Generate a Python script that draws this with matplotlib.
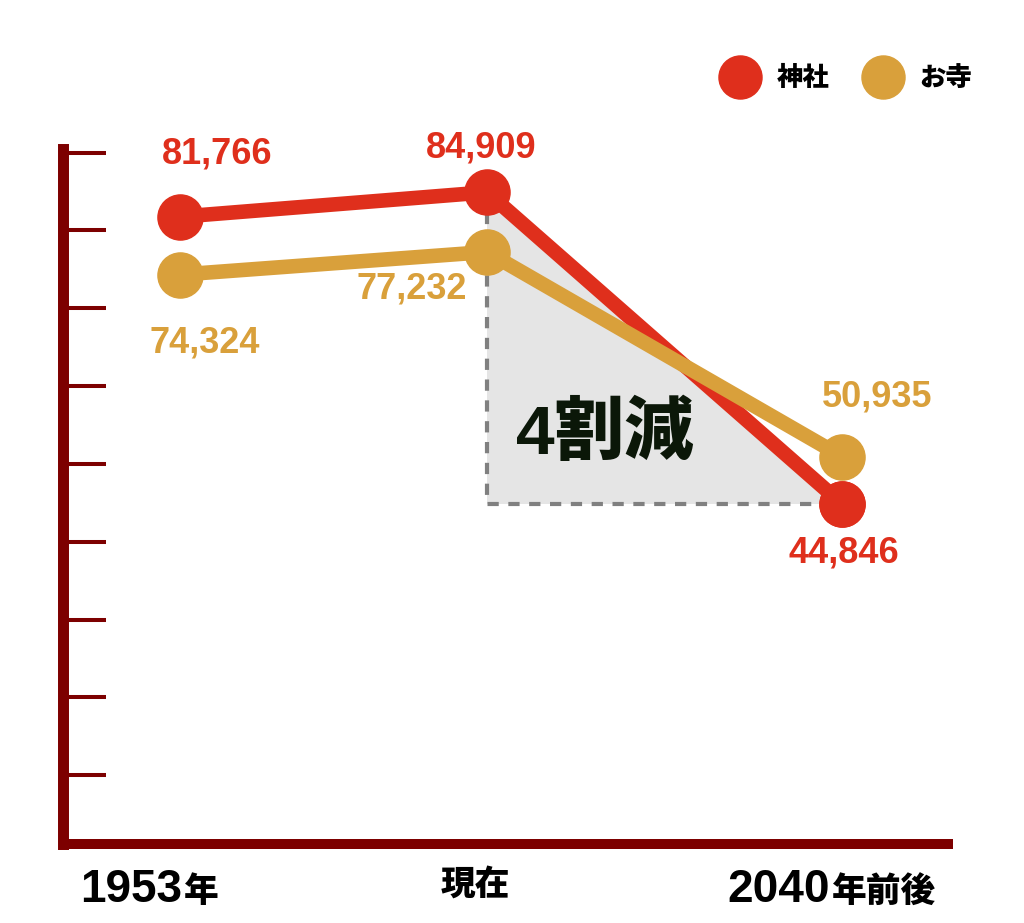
import re
import matplotlib
matplotlib.use("Agg")
import matplotlib.pyplot as plt
from matplotlib.lines import Line2D

plt.rcParams['font.family'] = ['Liberation Sans', 'Noto Sans CJK JP', 'DejaVu Sans']

# ---- data ----
categories = ["1953年", "現在", "2040年前後"]
shrines = [81766, 84909, 44846]      # 神社
temples = [74324, 77232, 50935]      # お寺
series_names = ["神社", "お寺"]
y_ticks = [10000, 20000, 30000, 40000, 50000, 60000, 70000, 80000, 90000]
reduction_label = "4割減"

# ---- style ----
RED = '#df2f1c'
GOLD = '#d9a03b'
AXIS = '#7d0000'
X_POS = [0, 1, 2.157]
W, H = 1024, 923

fig = plt.figure(figsize=(W / 100, H / 100), dpi=100)
L_px, R_px, B_px, T_px = 62.5, 953, 844, 148.5
ax = fig.add_axes([L_px / W, (H - B_px) / H, (R_px - L_px) / W, (B_px - T_px) / H])

ax.set_xlim(-0.3827, 2.518)
ax.set_ylim(1157, 90528)

for s in ['top', 'right']:
    ax.spines[s].set_visible(False)
ax.spines['left'].set_linewidth(7.9)
ax.spines['left'].set_color(AXIS)
ax.spines['left'].set_capstyle('projecting')
ax.spines['bottom'].set_linewidth(7.2)
ax.spines['bottom'].set_color(AXIS)
ax.spines['bottom'].set_capstyle('butt')

ax.set_yticks(y_ticks)
ax.set_yticklabels([])
ax.tick_params(axis='y', direction='in', length=31, width=2.9, color=AXIS)
ax.set_xticks([])

# shaded reduction triangle
tri_x = [X_POS[1], X_POS[1], X_POS[2]]
tri_y = [shrines[1], shrines[2], shrines[2]]
ax.fill(tri_x, tri_y, color='#e5e5e5', zorder=1, lw=0)
ax.plot(tri_x, tri_y, color='#808080', lw=3, ls=(0, (2.7, 2.3)), zorder=2,
        solid_capstyle='butt', dash_capstyle='butt')

ax.annotate(reduction_label, xy=(X_POS[1], shrines[2]), xytext=(85, 50),
            textcoords='offset points', ha='center', va='center',
            fontsize=50, fontweight='heavy', color='#0b1708',
            family=['Liberation Sans', 'Noto Sans CJK JP'], zorder=4)

# lines
ax.plot(X_POS, shrines, color=RED, lw=10.5, marker='o', ms=32.5,
        solid_capstyle='round', solid_joinstyle='round', zorder=3)
ax.plot(X_POS, temples, color=GOLD, lw=10.5, marker='o', ms=32.5,
        solid_capstyle='round', solid_joinstyle='round', zorder=3)
ax.plot(X_POS[2:], shrines[2:], color=RED, lw=0, marker='o', ms=32.5, zorder=3.5)

# value labels
shrine_offsets = [(27, 45), (-4, 32), (1, -35)]
temple_offsets = [(18, -49), (-54, -27), (25, 43)]
for x, v, off in zip(X_POS, shrines, shrine_offsets):
    ax.annotate(f"{v:,}", xy=(x, v), xytext=off, textcoords='offset points',
                ha='center', va='center', fontsize=26, fontweight='bold',
                color=RED, zorder=5)
for x, v, off in zip(X_POS, temples, temple_offsets):
    ax.annotate(f"{v:,}", xy=(x, v), xytext=off, textcoords='offset points',
                ha='center', va='center', fontsize=26, fontweight='bold',
                color=GOLD, zorder=5)

# category labels (digits larger than kanji, as in the reference)
join_offsets = [1.5, -8, -8.5]
for x, lab, jx in zip(X_POS, categories, join_offsets):
    m = re.match(r"^(\d*)(.*)$", lab)
    num, rest = m.group(1), m.group(2)
    if num:
        ax.annotate(num, xy=(x, 0), xycoords=('data', 'axes fraction'),
                    xytext=(jx, -42), textcoords='offset points',
                    ha='right', va='baseline', fontsize=33, fontweight='bold',
                    color='black', annotation_clip=False)
        ax.annotate(rest, xy=(x, 0), xycoords=('data', 'axes fraction'),
                    xytext=(jx + 1.5, -42), textcoords='offset points',
                    ha='left', va='baseline', fontsize=25, fontweight='heavy',
                    family=['Noto Sans CJK JP'], color='black',
                    annotation_clip=False)
    else:
        ax.annotate(rest, xy=(x, 0), xycoords=('data', 'axes fraction'),
                    xytext=(jx, -29), textcoords='offset points',
                    ha='center', va='center', fontsize=25, fontweight='heavy',
                    family=['Noto Sans CJK JP'], color='black',
                    annotation_clip=False)

# legend
handles = [Line2D([], [], color=c, marker='o', ms=31, lw=0) for c in (RED, GOLD)]
leg = ax.legend(handles, series_names, ncol=2, frameon=False,
                loc='center left', bbox_to_anchor=(727 / W, (H - 78) / H),
                bbox_transform=fig.transFigure, borderpad=0, borderaxespad=0,
                handlelength=1.0, handletextpad=0.9, columnspacing=1.5,
                prop={'family': ['Noto Sans CJK JP'], 'weight': 'heavy', 'size': 19})

fig.savefig("out.png", dpi=100)
